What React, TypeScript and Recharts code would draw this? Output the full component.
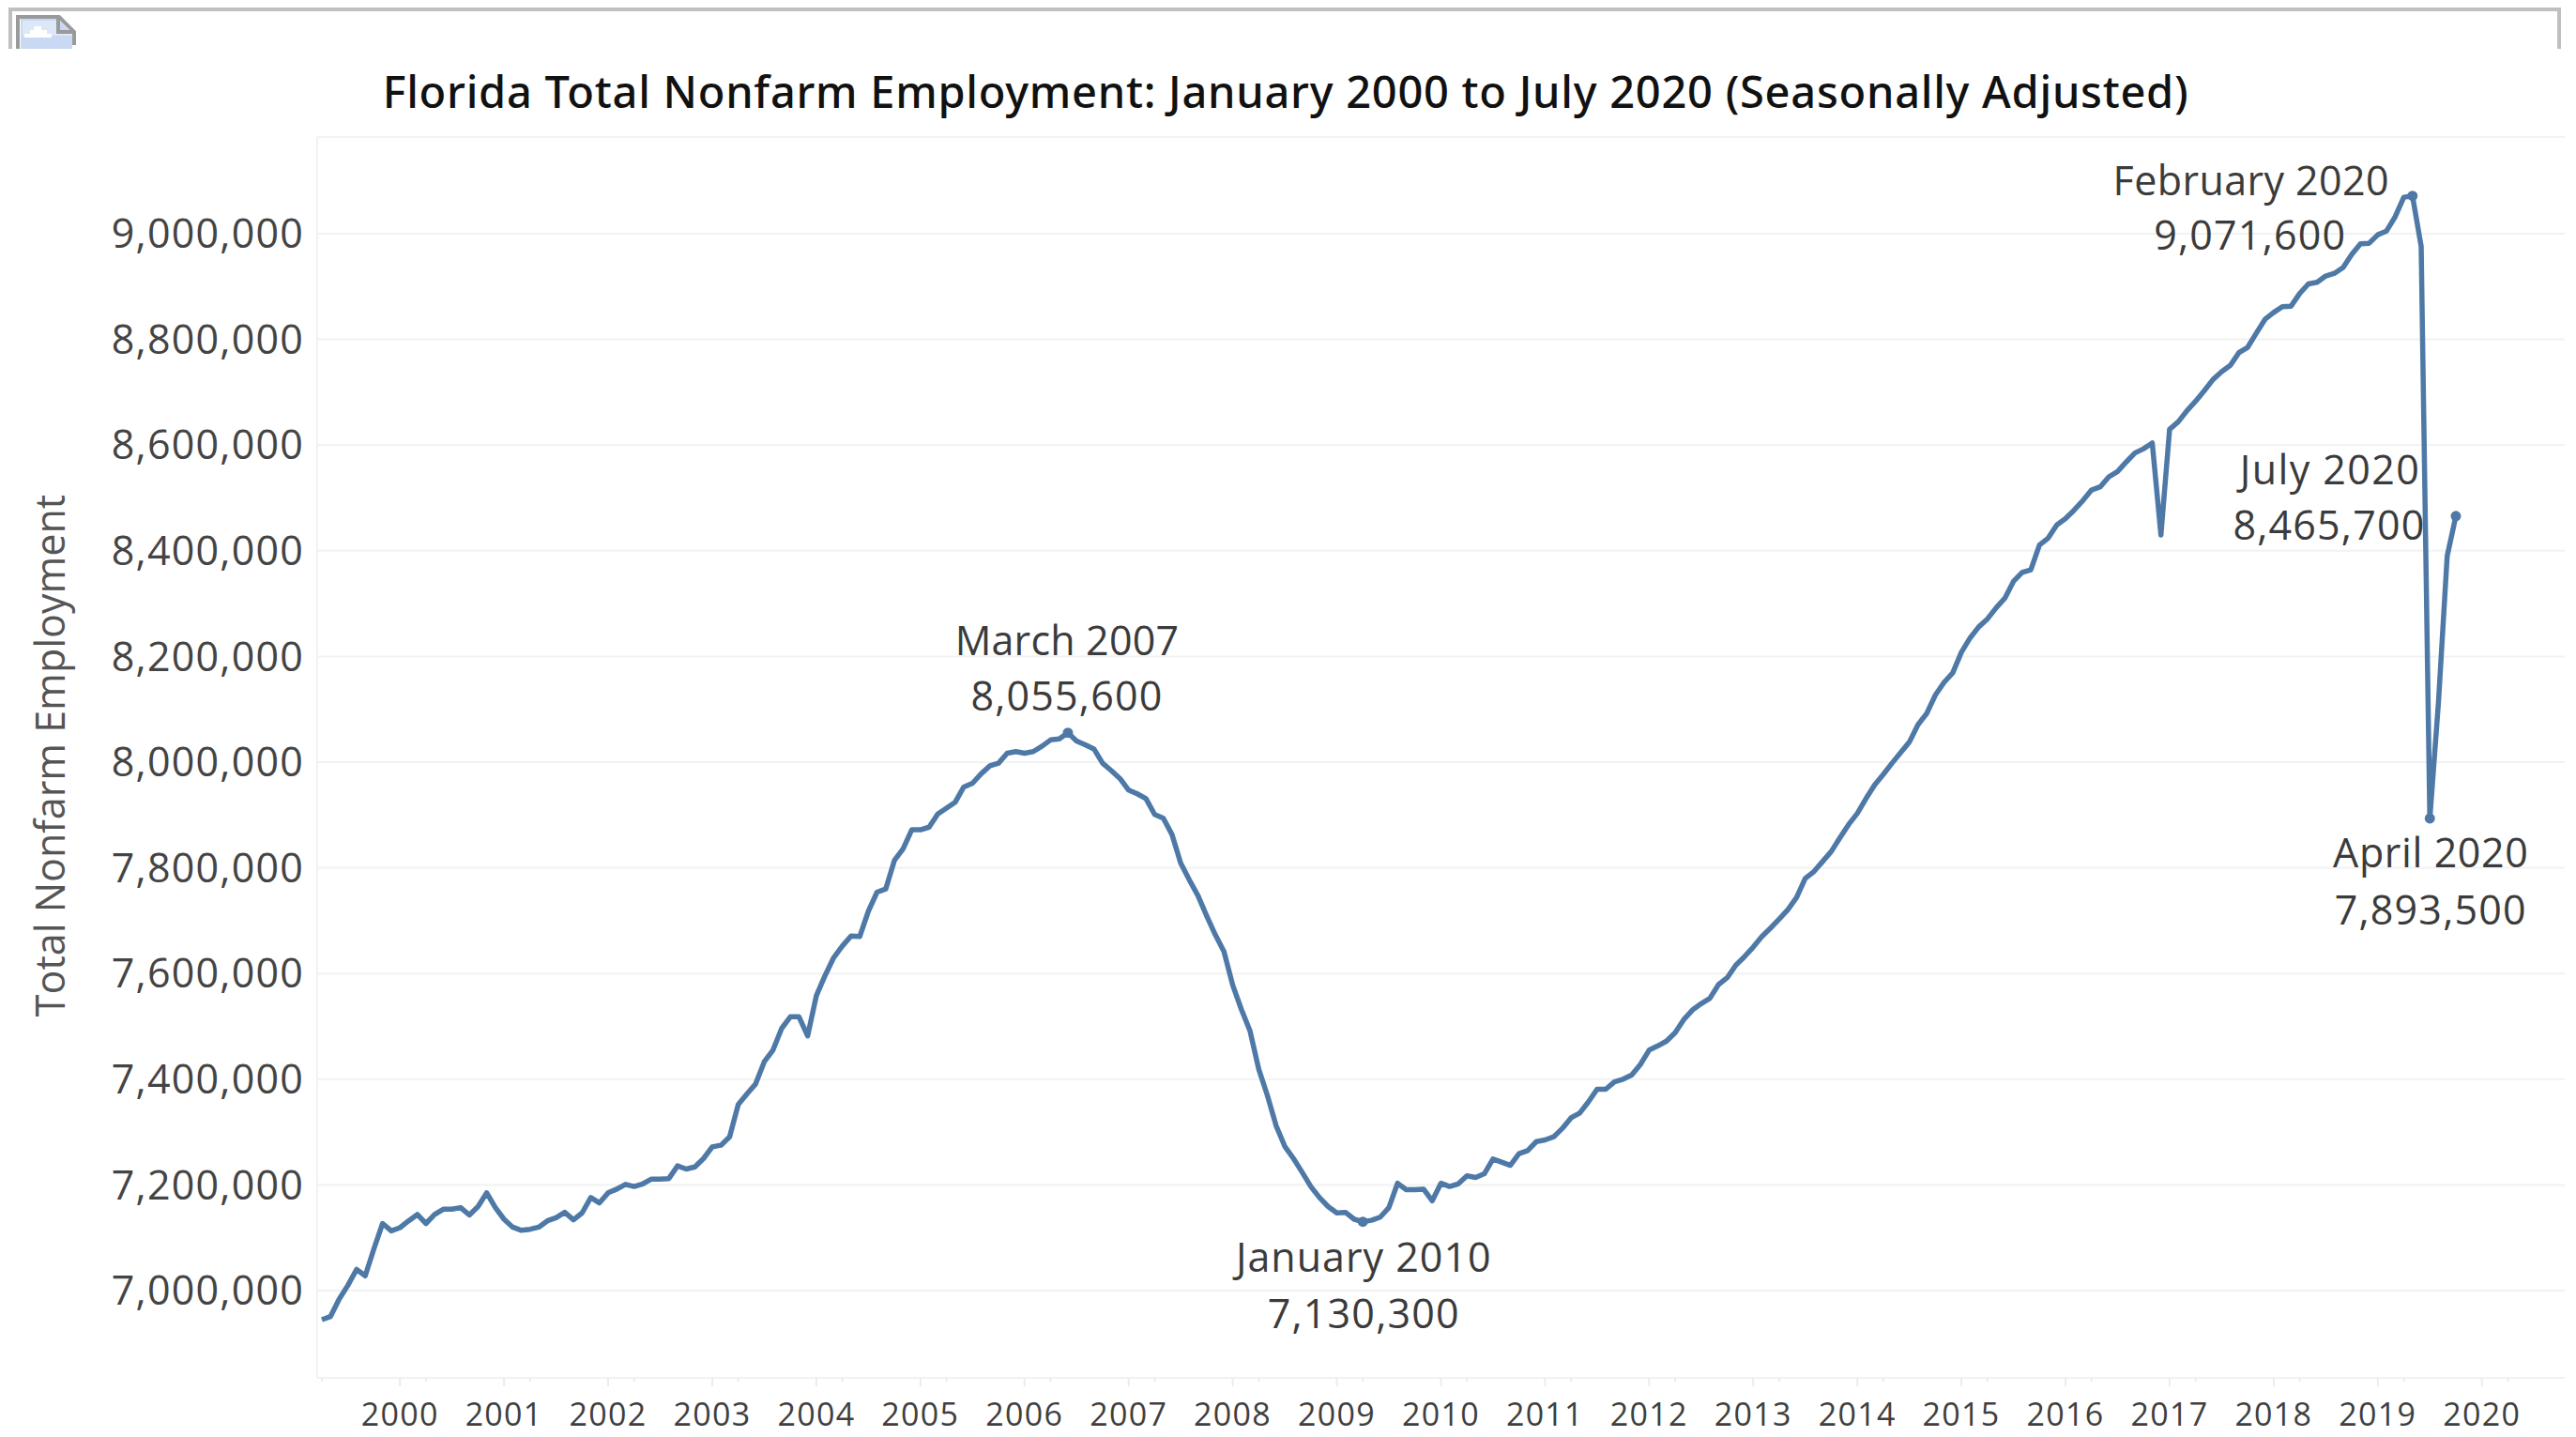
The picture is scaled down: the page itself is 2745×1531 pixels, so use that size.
import React from 'react';
import { CartesianGrid, Line, LineChart, XAxis, YAxis } from 'recharts';

// Monthly values, January 2000 (index 0) to July 2020 (index 246)
const employment = [
  6945000, 6951000, 6984000, 7010000, 7040000, 7028000, 7079000, 7127000, 7113000, 7119000, 7132000, 7144000,
  7127000, 7144000, 7154000, 7154000, 7157000, 7143000, 7159000, 7185000, 7157000, 7135000, 7120000, 7114000,
  7116000, 7120000, 7132000, 7138000, 7148000, 7134000, 7147000, 7176000, 7166000, 7185000, 7192000, 7201000,
  7197000, 7202000, 7211000, 7211000, 7212000, 7236000, 7230000, 7234000, 7250000, 7272000, 7275000, 7291000,
  7352000, 7372000, 7391000, 7433000, 7455000, 7496000, 7518000, 7518000, 7482000, 7558000, 7596000, 7630000,
  7652000, 7671000, 7670000, 7718000, 7754000, 7760000, 7814000, 7836000, 7872000, 7872000, 7877000, 7902000,
  7913000, 7924000, 7953000, 7960000, 7978000, 7993000, 7998000, 8017000, 8020000, 8017000, 8020000, 8030000,
  8042000, 8044000, 8055600, 8040000, 8033000, 8025000, 7998000, 7984000, 7969000, 7947000, 7940000, 7931000,
  7901000, 7894000, 7863000, 7809000, 7777000, 7747000, 7709000, 7673000, 7641000, 7578000, 7532000, 7491000,
  7419000, 7369000, 7312000, 7273000, 7250000, 7224000, 7197000, 7176000, 7159000, 7147000, 7148000, 7135000,
  7130300, 7133000, 7139000, 7157000, 7203000, 7191000, 7191000, 7192000, 7170000, 7203000, 7197000, 7202000,
  7217000, 7214000, 7221000, 7249000, 7243000, 7237000, 7259000, 7265000, 7282000, 7285000, 7291000, 7307000,
  7327000, 7336000, 7357000, 7381000, 7381000, 7395000, 7400000, 7408000, 7428000, 7455000, 7463000, 7472000,
  7488000, 7513000, 7531000, 7543000, 7553000, 7579000, 7592000, 7616000, 7632000, 7650000, 7670000, 7686000,
  7703000, 7721000, 7744000, 7780000, 7793000, 7812000, 7831000, 7857000, 7882000, 7903000, 7931000, 7957000,
  7977000, 7998000, 8018000, 8038000, 8071000, 8092000, 8127000, 8151000, 8169000, 8208000, 8235000, 8256000,
  8271000, 8292000, 8310000, 8342000, 8359000, 8364000, 8411000, 8424000, 8449000, 8461000, 8477000, 8495000,
  8515000, 8521000, 8540000, 8550000, 8568000, 8585000, 8593000, 8604000, 8430000, 8630000, 8644000, 8665000,
  8683000, 8703000, 8724000, 8739000, 8751000, 8775000, 8785000, 8812000, 8838000, 8851000, 8862000, 8863000,
  8887000, 8905000, 8908000, 8920000, 8925000, 8936000, 8961000, 8981000, 8982000, 8998000, 9005000, 9032000,
  9069000, 9071600, 8976000, 7893500, 8115000, 8390000, 8465700,
];

const yTicks = [7000000, 7200000, 7400000, 7600000, 7800000, 8000000, 8200000, 8400000, 8600000, 8800000, 9000000];

const yearLabels = [
  '2000', '2001', '2002', '2003', '2004', '2005', '2006', '2007', '2008', '2009', '2010',
  '2011', '2012', '2013', '2014', '2015', '2016', '2017', '2018', '2019', '2020',
];
const yearTicks = [9, 21, 33, 45, 57, 69, 81, 93, 105, 117, 129, 141, 153, 165, 177, 189, 201, 213, 225, 237, 249];
const minorTicks = [0, 12, 24, 36, 48, 60, 72, 84, 96, 108, 120, 132, 144, 156, 168, 180, 192, 204, 216, 228, 240, 252];

const annotatedMonths = [86, 120, 241, 243, 246];
const annotatedNames = ['March 2007', 'January 2010', 'February 2020', 'April 2020', 'July 2020'];
const annotatedAmounts = ['8,055,600', '7,130,300', '9,071,600', '7,893,500', '8,465,700'];

// label offsets from the dot: [name dx, name dy, amount dx, amount dy]
const labelOffsets = [
  [-1, -99, -1, -40],
  [1, 37, 1, 97],
  [-172, -17, -173, 41],
  [1, 36, 1, 97],
  [-134, -50, -135, 9],
];
const nameSpacing = [0.2, 1, 0.4, 0.6, 1.4];

const rows = employment.map((value, month) => ({ month, value }));

const BLUE = '#4e79a7';
const FONT = '"Open Sans", sans-serif';
const LABEL_SIZE = 43;

const MonthDot = (props: any) => {
  const { cx, cy, payload } = props;
  const i = annotatedMonths.indexOf(payload.month);
  if (i < 0) return <g key={payload.month} />;
  const off = labelOffsets[i];
  return (
    <g key={payload.month}>
      <circle cx={cx} cy={cy} r={5.5} fill={BLUE} />
      <text x={cx + off[0]} y={cy + off[1]} textAnchor="middle" dominantBaseline="central" fontFamily={FONT} fontSize={LABEL_SIZE} letterSpacing={nameSpacing[i]} fill="#3b3b3b">
        {annotatedNames[i]}
      </text>
      <text x={cx + off[2]} y={cy + off[3]} textAnchor="middle" dominantBaseline="central" fontFamily={FONT} fontSize={LABEL_SIZE} letterSpacing={1.2} fill="#3b3b3b">
        {annotatedAmounts[i]}
      </text>
    </g>
  );
};

const YearTick = (props: any) => {
  const { x, y, payload } = props;
  const i = yearTicks.indexOf(payload.value);
  return (
    <g>
      <line x1={x} x2={x} y1={y} y2={y + (i >= 0 ? 9 : 4)} stroke="#ececec" strokeWidth={2} />
      {i >= 0 && (
        <text x={x} y={y + 38} textAnchor="middle" dominantBaseline="central" fontFamily={FONT} fontSize={34} letterSpacing={1.3} fill="#3f3f3f">
          {yearLabels[i]}
        </text>
      )}
    </g>
  );
};

const AxisTitle = () => (
  <text
    transform="translate(52 805) rotate(-90)"
    textAnchor="middle"
    dominantBaseline="central"
    fontFamily={FONT}
    fontSize={43}
    fill="#555555"
  >
    Total Nonfarm Employment
  </text>
);

// the broken image placeholder at the top left of the screenshot
const Placeholder = () => (
  <svg width={2745} height={60} style={{ position: 'absolute', left: 0, top: 0 }}>
    <path d="M11 52V10H2727V52" fill="none" stroke="#bfbfbf" strokeWidth={4} />
    <path d="M22 20H62L77 36V52H22Z" fill="#c9d9f3" />
    <path d="M24 22H60V36H77V38H24Z" fill="#dce7f8" />
    <path d="M26 40V36H32V32H36V28H44V32H50V36H55V40Z" fill="#ffffff" />
    <path d="M19 52V18H63L79 34V48" fill="none" stroke="#9a9a9a" strokeWidth={4} />
    <path d="M62 20V34H78" fill="none" stroke="#9a9a9a" strokeWidth={4} />
  </svg>
);

export default function App() {
  return (
    <div style={{ position: 'absolute', left: 0, top: 0, width: 2745, height: 1531, background: '#ffffff' }}>
      <Placeholder />
      <div
        style={{
          position: 'absolute',
          left: 0,
          width: 2740,
          top: 66,
          textAlign: 'center',
          fontFamily: '"Noto Sans", sans-serif',
          fontSize: 47,
          fontWeight: 500,
          letterSpacing: 0.73,
          lineHeight: '62px',
          color: '#111111',
          whiteSpace: 'nowrap',
        }}
      >
        Florida Total Nonfarm Employment: January 2000 to July 2020 (Seasonally Adjusted)
      </div>
      <LineChart
        width={2745}
        height={1531}
        data={rows}
        margin={{ top: 146, right: 12, bottom: 0, left: 0 }}
        style={{ position: 'absolute', left: 0, top: 0 }}
      >
        <CartesianGrid horizontal vertical={false} stroke="#f2f2f2" strokeWidth={2} />
        <XAxis
          dataKey="month"
          type="number"
          domain={[-0.54, 258.55]}
          ticks={[...minorTicks, ...yearTicks]}
          interval={0}
          height={63}
          tickSize={0}
          tickMargin={0}
          axisLine={{ stroke: '#f2f2f2', strokeWidth: 2 }}
          tickLine={false}
          tick={<YearTick />}
        />
        <YAxis
          type="number"
          width={338}
          domain={[6834800, 9182950]}
          ticks={yTicks}
          interval={0}
          tickSize={0}
          tickMargin={14}
          axisLine={{ stroke: '#f2f2f2', strokeWidth: 2 }}
          tickLine={false}
          tick={{ fontFamily: FONT, fontSize: LABEL_SIZE, letterSpacing: 1.2, fill: '#444444' }}
          tickFormatter={(v: number) => v.toLocaleString('en-US')}
          label={<AxisTitle />}
        />
        <Line
          type="linear"
          dataKey="value"
          stroke={BLUE}
          strokeWidth={5.5}
          strokeLinejoin="round"
          dot={(p: any) => <MonthDot key={p.payload.month} {...p} />}
          activeDot={false}
          isAnimationActive={false}
        />
      </LineChart>
    </div>
  );
}
